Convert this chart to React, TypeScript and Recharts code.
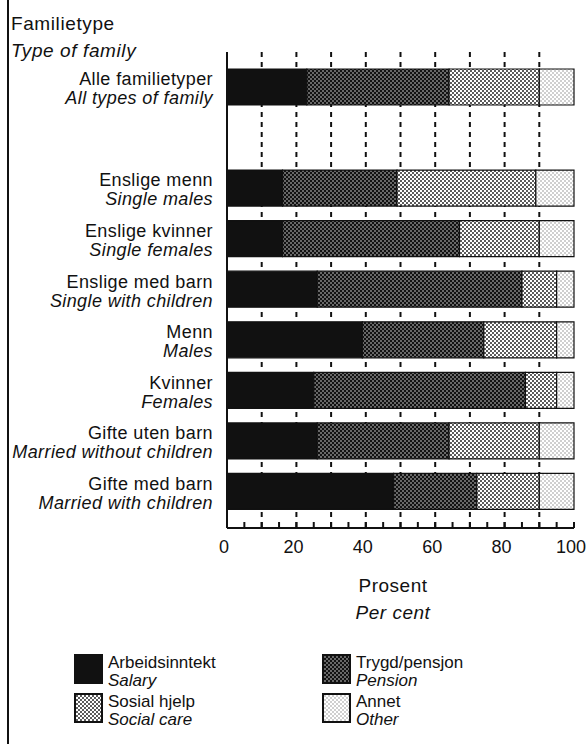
import React from "react";
import { Bar, BarChart, CartesianGrid, XAxis, YAxis } from "recharts";

const CATEGORIES_NO = [
  "Alle familietyper",
  "",
  "Enslige menn",
  "Enslige kvinner",
  "Enslige med barn",
  "Menn",
  "Kvinner",
  "Gifte uten barn",
  "Gifte med barn",
];
const CATEGORIES_EN = [
  "All types of family",
  "",
  "Single males",
  "Single females",
  "Single with children",
  "Males",
  "Females",
  "Married without children",
  "Married with children",
];
const SALARY = [23, null, 16, 16, 26, 39, 25, 26, 48];
const PENSION = [41, null, 33, 51, 59, 35, 61, 38, 24];
const SOCIAL = [26, null, 40, 23, 10, 21, 9, 26, 18];
const OTHER = [10, null, 11, 10, 5, 5, 5, 10, 10];

const X_TICKS = [0, 5, 10, 15, 20, 25, 30, 35, 40, 45, 50, 55, 60, 65, 70, 75, 80, 85, 90, 95, 100];
const X_LABELS = [0, 20, 40, 60, 80, 100];
const GRID_VALUES = [10, 20, 30, 40, 50, 60, 70, 80, 90];

const SERIES = [
  { key: "salary", no: "Arbeidsinntekt", en: "Salary", fill: "#111" },
  { key: "pension", no: "Trygd/pensjon", en: "Pension", fill: "url(#pat-pension)" },
  { key: "social", no: "Sosial hjelp", en: "Social care", fill: "url(#pat-social)" },
  { key: "other", no: "Annet", en: "Other", fill: "url(#pat-other)" },
];

const data = CATEGORIES_NO.map((no, i) => ({
  no,
  en: CATEGORIES_EN[i],
  salary: SALARY[i],
  pension: PENSION[i],
  social: SOCIAL[i],
  other: OTHER[i],
}));

const FONT = "'Liberation Sans', Arial, Helvetica, sans-serif";
const INK = "#111";

function Patterns() {
  return (
    <svg width={0} height={0} style={{ position: "absolute" }}>
      <defs>
        <pattern id="pat-pension" width={4} height={4} patternUnits="userSpaceOnUse">
          <rect width={4} height={4} fill="#121212" />
          <circle cx={1} cy={1} r={0.7} fill="#fff" />
          <circle cx={3} cy={3} r={0.7} fill="#fff" />
        </pattern>
        <pattern id="pat-social" width={4} height={4} patternUnits="userSpaceOnUse">
          <rect width={4} height={4} fill="#fff" />
          <circle cx={1} cy={1} r={0.95} fill="#161616" />
          <circle cx={3} cy={3} r={0.95} fill="#161616" />
        </pattern>
        <pattern id="pat-other" width={4} height={4} patternUnits="userSpaceOnUse">
          <rect width={4} height={4} fill="#fff" />
          <circle cx={1} cy={1} r={0.75} fill="#888" />
          <circle cx={3} cy={3} r={0.75} fill="#888" />
        </pattern>
      </defs>
    </svg>
  );
}

function CategoryTick({ x, y, payload }: any) {
  const i = payload.index;
  return (
    <text x={x} y={y} textAnchor="end" fontFamily={FONT} fontSize={18} letterSpacing={0.4} fill={INK}>
      <tspan x={x} y={y - 8} dominantBaseline="central">
        {CATEGORIES_NO[i]}
      </tspan>
      <tspan x={x} y={y + 11} dominantBaseline="central" fontStyle="italic">
        {CATEGORIES_EN[i]}
      </tspan>
    </text>
  );
}

function ValueTick({ x, y, payload }: any) {
  if (!X_LABELS.includes(payload.value)) return null;
  return (
    <text x={x - 3} y={y} dy="0.71em" textAnchor="middle" fontFamily={FONT} fontSize={18} fill={INK}>
      {payload.value}
    </text>
  );
}

export default function App() {
  return (
    <div style={{ position: "absolute", left: 0, top: 0, width: 587, height: 744, background: "#fff", fontFamily: FONT, color: INK }}>
      <Patterns />
      <div style={{ position: "absolute", left: 7, top: 0, width: 2, height: 744, background: INK }} />
      <div style={{ position: "absolute", left: 11, top: 10, fontSize: 19, letterSpacing: 0.6, lineHeight: "27px" }}>
        <div>Familietype</div>
        <div style={{ fontStyle: "italic" }}>Type of family</div>
      </div>

      <div style={{ position: "absolute", left: 0, top: 0 }}>
        <BarChart
          width={587}
          height={562}
          data={data}
          layout="vertical"
          margin={{ top: 52, right: 13, bottom: 0, left: 0 }}
          barSize={36}
        >
          <CartesianGrid
            horizontal={false}
            verticalValues={GRID_VALUES}
            stroke={INK}
            strokeWidth={2}
            strokeDasharray="5 5"
          />
          <XAxis
            type="number"
            domain={[0, 100]}
            ticks={X_TICKS}
            interval={0}
            tickSize={-6}
            tickMargin={18}
            height={34}
            tick={<ValueTick />}
            tickLine={{ stroke: INK, strokeWidth: 2 }}
            axisLine={{ stroke: INK, strokeWidth: 2 }}
          />
          <XAxis
            xAxisId="top"
            orientation="top"
            type="number"
            domain={[0, 100]}
            height={0}
            tick={false}
            tickLine={false}
            axisLine={{ stroke: INK, strokeWidth: 2 }}
          />
          <YAxis
            type="category"
            dataKey="no"
            width={227}
            tickSize={0}
            tickMargin={14}
            interval={0}
            padding={{ top: 10, bottom: 11 }}
            tick={<CategoryTick />}
            tickLine={false}
            axisLine={{ stroke: INK, strokeWidth: 2 }}
          />
          <YAxis
            yAxisId="right"
            orientation="right"
            type="category"
            dataKey="no"
            width={0}
            tick={false}
            tickLine={false}
            axisLine={{ stroke: INK, strokeWidth: 2 }}
          />
          {SERIES.map((s) => (
            <Bar
              key={s.key}
              dataKey={s.key}
              stackId="a"
              fill={s.fill}
              stroke={INK}
              strokeWidth={1.2}
              isAnimationActive={false}
            />
          ))}
        </BarChart>
      </div>

      <div style={{ position: "absolute", left: 300, top: 572, width: 186, textAlign: "center", fontSize: 19, lineHeight: "27px", letterSpacing: 0.5 }}>
        <div>Prosent</div>
        <div style={{ fontStyle: "italic" }}>Per cent</div>
      </div>

      {SERIES.map((s, i) => {
        const left = i % 2 === 0 ? 74 : 322;
        const top = i < 2 ? 654 : 693;
        return (
          <div key={s.key} style={{ position: "absolute", left, top, display: "flex", alignItems: "flex-start" }}>
            <svg width={29} height={30} style={{ display: "block" }}>
              <rect x={1} y={1} width={27} height={28} fill={s.fill} stroke={INK} strokeWidth={2} />
            </svg>
            <div style={{ marginLeft: 5, fontSize: 17, lineHeight: "18px", marginTop: 0 }}>
              <div>{s.no}</div>
              <div style={{ fontStyle: "italic" }}>{s.en}</div>
            </div>
          </div>
        );
      })}
    </div>
  );
}
